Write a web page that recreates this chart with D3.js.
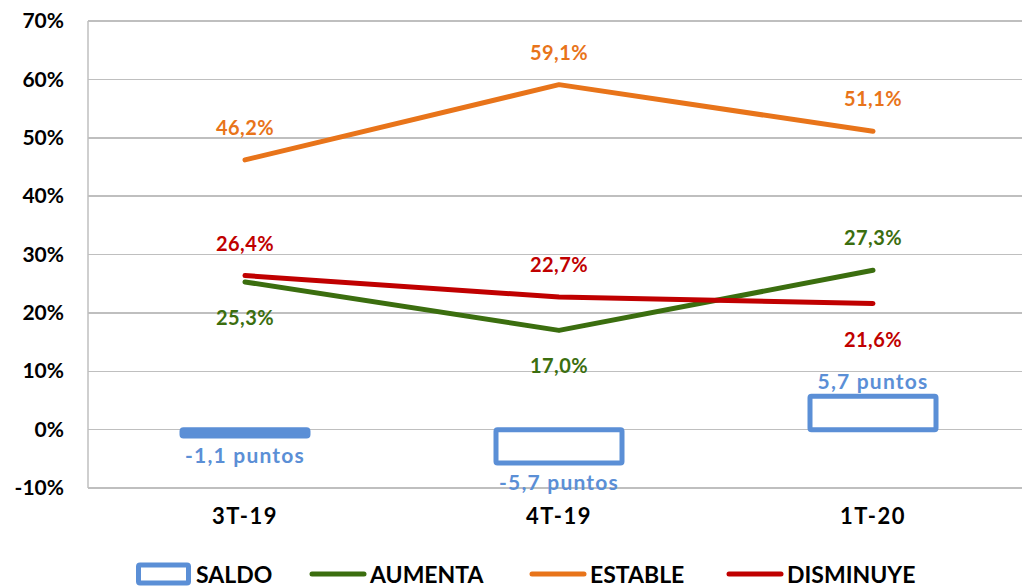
<!DOCTYPE html>
<meta charset="utf-8">
<head>
<style>
  body { margin: 0; background: #fff; }
  text { font-family: Lato, "Open Sans", sans-serif; font-weight: bold; }
  .axis path, .axis line { display: none; }
  .grid line { stroke: #bfbfbf; stroke-width: 1.5; shape-rendering: crispEdges; }
</style>
</head>
<body>
<script src="https://d3js.org/d3.v7.min.js"></script>
<script>
// data
var periods = ["3T-19", "4T-19", "1T-20"];
var saldo = [-1.1, -5.7, 5.7];
var aumenta = [25.3, 17.0, 27.3];
var estable = [46.2, 59.1, 51.1];
var disminuye = [26.4, 22.7, 21.6];
var yTicks = [-10, 0, 10, 20, 30, 40, 50, 60, 70];

var colors = {saldo: "#5b8fd6", aumenta: "#3b6e0f", estable: "#e8741a", disminuye: "#c00000"};

var width = 1022, height = 588;
var margin = {left: 88, right: 1030, top: 21, bottom: 488};

// spanish number: comma decimal, plain hyphen
function fmt(d) {
  return d3.format(".1f")(d).replace("\u2212", "-").replace(".", ",");
}

var svg = d3.select("body").append("svg")
    .attr("width", width)
    .attr("height", height);

var x = d3.scaleBand().domain(periods).range([margin.left, margin.right]);
var y = d3.scaleLinear().domain([-10, 70]).range([margin.bottom, margin.top]);

// gridlines
svg.append("g").attr("class", "grid")
  .selectAll("line").data(yTicks).enter().append("line")
    .attr("x1", margin.left).attr("x2", width)
    .attr("y1", function(d) { return y(d); })
    .attr("y2", function(d) { return y(d); });
svg.append("line")
    .attr("x1", margin.left).attr("x2", margin.left)
    .attr("y1", margin.top).attr("y2", margin.bottom)
    .attr("stroke", "#bfbfbf").attr("stroke-width", 1.5);

// y axis labels
svg.append("g").attr("class", "axis")
    .attr("transform", "translate(" + margin.left + ",0)")
    .call(d3.axisLeft(y).tickValues(yTicks).tickSize(0).tickPadding(24)
      .tickFormat(function(d) { return d + "%"; }))
  .selectAll("text")
    .style("font-size", "21px").attr("fill", "#000");

// x axis labels
svg.append("g").attr("class", "axis")
    .attr("transform", "translate(0," + margin.bottom + ")")
    .call(d3.axisBottom(x).tickSize(0).tickPadding(20))
  .selectAll("text")
    .style("font-size", "22px").style("letter-spacing", "1.5px").attr("fill", "#000");

// saldo bars (hollow)
var barW = 126;
svg.selectAll(".saldo").data(saldo).enter().append("rect")
    .attr("class", "saldo")
    .attr("x", function(d, i) { return x(periods[i]) + x.bandwidth() / 2 - barW / 2; })
    .attr("y", function(d) { return y(Math.max(0, d)); })
    .attr("width", barW)
    .attr("height", function(d) { return Math.abs(y(d) - y(0)); })
    .attr("fill", function(d) { return Math.abs(y(d) - y(0)) < 8 ? colors.saldo : "none"; })
    .attr("stroke", colors.saldo)
    .attr("stroke-width", 5)
    .attr("rx", 1.5);

svg.selectAll(".saldoLbl").data(saldo).enter().append("text")
    .attr("x", function(d, i) { return x(periods[i]) + x.bandwidth() / 2; })
    .attr("y", function(d) { return d < 0 ? y(d) + 27 : y(d) - 7; })
    .attr("text-anchor", "middle")
    .style("font-size", "21px")
    .style("letter-spacing", "1.2px")
    .attr("fill", colors.saldo)
    .text(function(d) { return fmt(d) + " puntos"; });

// lines
var series = [
  {key: "aumenta", values: aumenta, pos: ["below", "below", "above"]},
  {key: "estable", values: estable, pos: ["above", "above", "above"]},
  {key: "disminuye", values: disminuye, pos: ["above", "above", "below"]}
];

var line = d3.line()
    .x(function(d, i) { return x(periods[i]) + x.bandwidth() / 2; })
    .y(function(d) { return y(d); });

series.forEach(function(s) {
  svg.append("path")
      .datum(s.values)
      .attr("d", line)
      .attr("fill", "none")
      .attr("stroke", colors[s.key])
      .attr("stroke-width", 5)
      .attr("stroke-linecap", "round")
      .attr("stroke-linejoin", "round");
});

series.forEach(function(s) {
  svg.selectAll(".lbl-" + s.key).data(s.values).enter().append("text")
      .attr("x", function(d, i) { return x(periods[i]) + x.bandwidth() / 2; })
      .attr("y", function(d, i) { return s.pos[i] == "above" ? y(d) - 25 : y(d) + 43; })
      .attr("text-anchor", "middle")
      .style("font-size", "20px")
      .style("letter-spacing", "0.4px")
      .attr("fill", colors[s.key])
      .text(function(d) { return fmt(d) + "%"; });
});

// legend
var legend = [
  {key: "saldo", label: "SALDO", x: 136},
  {key: "aumenta", label: "AUMENTA", x: 310},
  {key: "estable", label: "ESTABLE", x: 530},
  {key: "disminuye", label: "DISMINUYE", x: 727}
];
var ly = 574;
legend.forEach(function(l) {
  if (l.key == "saldo") {
    svg.append("rect")
        .attr("x", l.x + 2.5).attr("y", ly - 9)
        .attr("width", 50).attr("height", 18)
        .attr("fill", "none").attr("stroke", colors.saldo)
        .attr("stroke-width", 5).attr("rx", 1.5);
  } else {
    svg.append("line")
        .attr("x1", l.x + 2).attr("x2", l.x + 54)
        .attr("y1", ly).attr("y2", ly)
        .attr("stroke", colors[l.key]).attr("stroke-width", 5)
        .attr("stroke-linecap", "round");
  }
  svg.append("text")
      .attr("x", l.x + 60).attr("y", ly + 9)
      .style("font-size", "23px")
      .attr("fill", "#000")
      .text(l.label);
});
</script>
</body>
